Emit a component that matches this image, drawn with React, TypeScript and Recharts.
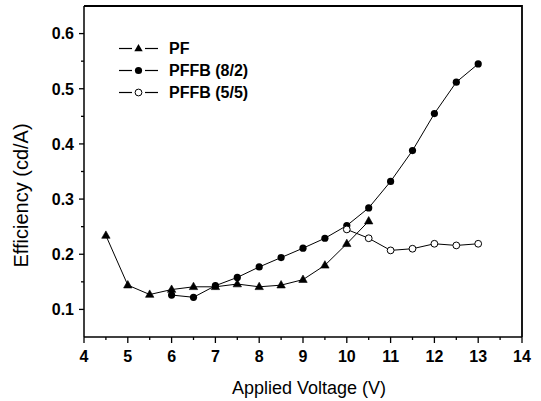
import React from "react";
import { LineChart, Line, XAxis, YAxis, Legend } from "recharts";

// series names, in legend order
const seriesNames = ["PF", "PFFB (8/2)", "PFFB (5/5)"];

// PF
const pfVoltage = [4.5, 5, 5.5, 6, 6.5, 7, 7.5, 8, 8.5, 9, 9.5, 10, 10.5];
const pfEfficiency = [0.234, 0.144, 0.127, 0.136, 0.141, 0.141, 0.146, 0.141, 0.144, 0.154, 0.18, 0.219, 0.26];

// PFFB (8/2)
const pffb82Voltage = [6, 6.5, 7, 7.5, 8, 8.5, 9, 9.5, 10, 10.5, 11, 11.5, 12, 12.5, 13];
const pffb82Efficiency = [0.126, 0.122, 0.143, 0.158, 0.177, 0.194, 0.211, 0.229, 0.252, 0.284, 0.332, 0.388, 0.455, 0.512, 0.545];

// PFFB (5/5)
const pffb55Voltage = [10, 10.5, 11, 11.5, 12, 12.5, 13];
const pffb55Efficiency = [0.245, 0.229, 0.207, 0.21, 0.219, 0.216, 0.219];

// axis ticks
const xTicks = [4, 4.5, 5, 5.5, 6, 6.5, 7, 7.5, 8, 8.5, 9, 9.5, 10, 10.5, 11, 11.5, 12, 12.5, 13, 13.5, 14];
const yTicks = [0.1, 0.15, 0.2, 0.25, 0.3, 0.35, 0.4, 0.45, 0.5, 0.55, 0.6];

const toRows = (xs: number[], ys: number[]) => xs.map((v, i) => ({ v, e: ys[i] }));
const pfData = toRows(pfVoltage, pfEfficiency);
const pffb82Data = toRows(pffb82Voltage, pffb82Efficiency);
const pffb55Data = toRows(pffb55Voltage, pffb55Efficiency);

const FONT = '"Liberation Sans", Arial, Helvetica, sans-serif';

// chart box
const W = 541;
const H = 401;
const M = { top: 6, right: 19, bottom: 34, left: 24 };
const Y_AXIS_W = 60;
const X_AXIS_H = 30;
const plotLeft = M.left + Y_AXIS_W;
const plotRight = W - M.right;
const plotTop = M.top;
const plotBottom = H - M.bottom - X_AXIS_H;

const trianglePath = (x: number, y: number) =>
  `M${x},${y - 4.6} L${x + 4.2},${y + 2.8} L${x - 4.2},${y + 2.8} Z`;

const Triangle = (props: any) => {
  const { cx, cy, index } = props;
  if (cx == null || cy == null) return <g key={`t-${index}`} />;
  return <path key={`t-${index}`} d={trianglePath(cx, cy)} fill="#000" stroke="#000" strokeWidth={0.6} />;
};

const FilledDot = (props: any) => {
  const { cx, cy, index } = props;
  if (cx == null || cy == null) return <g key={`f-${index}`} />;
  return <circle key={`f-${index}`} cx={cx} cy={cy} r={3.6} fill="#000" />;
};

const OpenDot = (props: any) => {
  const { cx, cy, index } = props;
  if (cx == null || cy == null) return <g key={`o-${index}`} />;
  return <circle key={`o-${index}`} cx={cx} cy={cy} r={3.4} fill="#fff" stroke="#000" strokeWidth={1} />;
};

const renderXTick = (props: any) => {
  const { x, y, payload, index } = props;
  const major = Number.isInteger(payload.value);
  return (
    <g key={`xt-${index}`}>
      <line x1={x} x2={x} y1={y} y2={y + (major ? 6 : 3)} stroke="#000" strokeWidth={1.3} />
      {major && (
        <text x={x} y={y + 25} textAnchor="middle" fontFamily={FONT} fontWeight="bold" fontSize={16} fill="#000">
          {payload.value}
        </text>
      )}
    </g>
  );
};

const renderYTick = (props: any) => {
  const { x, y, payload, index } = props;
  const v = payload.value;
  const major = Math.abs(v * 10 - Math.round(v * 10)) < 1e-6;
  return (
    <g key={`yt-${index}`}>
      <line x1={x} x2={x - (major ? 5 : 3)} y1={y} y2={y} stroke="#000" strokeWidth={1.3} />
      {major && (
        <text x={x - 10} y={y} dy="0.36em" textAnchor="end" fontFamily={FONT} fontWeight="bold" fontSize={16} fill="#000">
          {v.toFixed(1)}
        </text>
      )}
    </g>
  );
};

const markers = [
  (x: number, y: number) => <path d={trianglePath(x, y)} fill="#000" />,
  (x: number, y: number) => <circle cx={x} cy={y} r={3.6} fill="#000" />,
  (x: number, y: number) => <circle cx={x} cy={y} r={3.4} fill="#fff" stroke="#000" strokeWidth={1} />,
];

const LegendBox = () => (
  <svg width={160} height={70}>
    {seriesNames.map((name, i) => {
      const cy = 11.5 + i * 22;
      return (
        <g key={name}>
          <line x1={4} x2={17} y1={cy} y2={cy} stroke="#000" strokeWidth={1.2} />
          <line x1={30} x2={43} y1={cy} y2={cy} stroke="#000" strokeWidth={1.2} />
          {markers[i](23.5, cy)}
          <text x={54} y={cy} dy="0.36em" fontFamily={FONT} fontWeight="bold" fontSize={16} fill="#000">
            {name}
          </text>
        </g>
      );
    })}
  </svg>
);

export default function App() {
  return (
    <div style={{ position: "absolute", left: 0, top: 0, width: W, height: H, background: "#fff" }}>
      <LineChart width={W} height={H} margin={M}>
        <XAxis
          type="number"
          dataKey="v"
          domain={[4, 14]}
          ticks={xTicks}
          interval={0}
          tickSize={0}
          tickMargin={0}
          tickLine={false}
          tick={renderXTick}
          height={X_AXIS_H}
          axisLine={{ stroke: "#000", strokeWidth: 1.5 }}
        />
        <YAxis
          type="number"
          domain={[0.05, 0.65]}
          ticks={yTicks}
          interval={0}
          tickSize={0}
          tickMargin={0}
          tickLine={false}
          tick={renderYTick}
          width={Y_AXIS_W}
          axisLine={{ stroke: "#000", strokeWidth: 1.5 }}
        />
        <Legend
          layout="vertical"
          align="center"
          verticalAlign="middle"
          content={() => <LegendBox />}
          wrapperStyle={{ position: "absolute", left: 115, top: 37, width: 160, height: 70 }}
        />
        <Line
          data={pfData}
          dataKey="e"
          name={seriesNames[0]}
          stroke="#000"
          strokeWidth={1}
          dot={Triangle}
          activeDot={false}
          isAnimationActive={false}
        />
        <Line
          data={pffb82Data}
          dataKey="e"
          name={seriesNames[1]}
          stroke="#000"
          strokeWidth={1}
          dot={FilledDot}
          activeDot={false}
          isAnimationActive={false}
        />
        <Line
          data={pffb55Data}
          dataKey="e"
          name={seriesNames[2]}
          stroke="#000"
          strokeWidth={1}
          dot={OpenDot}
          activeDot={false}
          isAnimationActive={false}
        />
      </LineChart>
      <svg width={W} height={H} style={{ position: "absolute", left: 0, top: 0, pointerEvents: "none" }}>
        {/* top and right frame of the plot box */}
        <polyline
          points={`${plotLeft},${plotTop} ${plotRight},${plotTop} ${plotRight},${plotBottom}`}
          fill="none"
          stroke="#000"
          strokeWidth={1.8}
        />
        <text x={309} y={394} textAnchor="middle" fontFamily={FONT} fontSize={18} fill="#000">
          Applied Voltage (V)
        </text>
        <text transform="translate(27.5,195.5) rotate(-90)" textAnchor="middle" fontFamily={FONT} fontSize={20} fill="#000">
          Efficiency (cd/A)
        </text>
      </svg>
    </div>
  );
}
